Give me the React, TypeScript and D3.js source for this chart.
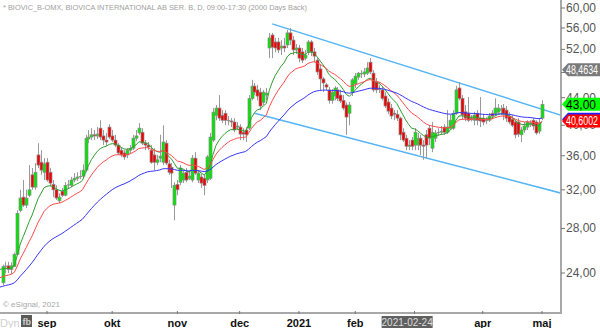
import React from "react";
import * as d3 from "d3";

// Daily OHLC bars (BIOVIC B), Aug 2020 -> May 2021
const opens = [23.2,24.55,24.6,24.3,24.55,25.6,29.8,31.2,30.35,31.4,33.7,32.3,36.1,35.2,34.0,35.2,34.0,32.6,32.0,30.8,31.85,31.4,32.5,32.5,33.1,33.3,33.45,33.55,34.25,38.15,38.4,38.7,38.55,39.6,38.55,38.0,39.75,38.55,38.0,37.35,36.7,36.35,36.1,36.7,36.95,38.25,38.95,39.05,37.6,37.35,36.7,36.1,35.2,35.7,35.2,37.6,35.0,34.6,30.35,32.6,32.85,33.1,34.0,33.3,33.1,35.7,33.1,33.45,33.3,33.1,33.3,38.0,41.4,42.45,41.4,41.7,40.7,40.6,40.45,39.75,39.75,39.05,39.35,39.6,43.9,45.8,45.2,44.85,43.3,44.4,52.25,54.65,53.35,53.35,52.25,52.6,52.8,55.05,53.7,51.9,52.25,51.55,50.45,51.55,53.35,51.55,50.1,48.6,46.95,46.0,45.2,43.6,44.25,45.2,44.4,43.6,42.9,41.7,44.85,46.15,47.25,47.75,47.75,47.9,49.75,47.9,46.45,45.2,45.2,44.25,43.35,42.45,41.7,41.55,41.0,39.05,38.25,37.2,38.0,37.35,37.35,38.25,37.35,38.7,39.6,36.95,38.25,38.95,39.05,39.75,39.05,39.6,39.6,41.7,45.5,43.9,41.9,41.7,41.0,40.7,41.7,41.0,41.0,40.6,40.7,41.7,41.6,41.85,42.15,42.45,42.15,41.3,40.85,40.45,40.45,38.7,39.35,39.75,40.15,40.7,40.45,39.2,41.0];
const highs = [24.7,24.95,24.95,24.9,25.75,29.8,32.0,33.1,32.0,34.85,34.5,35.1,37.6,36.7,35.7,35.7,34.5,33.1,32.5,31.6,32.2,32.85,33.1,33.45,33.9,34.0,34.25,34.95,38.7,39.35,39.6,39.35,39.75,40.7,39.35,38.95,40.15,39.35,38.7,37.6,37.1,36.7,36.95,37.35,38.7,39.35,40.3,39.6,38.0,37.75,37.35,36.95,36.1,38.7,40.0,38.0,35.5,35.1,32.85,33.1,34.85,34.25,34.5,34.25,36.1,36.45,34.25,33.8,33.7,36.1,38.95,42.45,42.9,44.4,42.15,42.15,41.3,41.0,41.0,40.45,40.15,39.6,39.75,44.4,46.8,46.3,46.0,45.5,45.2,45.5,55.05,55.05,54.1,54.1,53.7,54.1,55.6,56.0,54.45,52.95,52.8,52.25,51.9,53.7,53.7,52.25,50.45,49.25,47.25,46.3,45.65,45.35,45.8,45.65,45.2,44.4,43.3,43.35,47.1,47.9,48.1,48.4,48.75,49.75,50.45,48.4,47.1,45.95,45.65,44.85,43.9,43.05,42.15,42.15,41.2,39.6,38.7,38.0,38.4,39.6,38.95,38.7,38.0,39.35,40.0,40.45,39.35,39.6,39.9,40.15,42.15,41.45,42.15,45.85,46.45,44.4,42.9,44.1,41.45,41.9,42.15,44.1,41.6,41.15,41.75,42.15,43.9,43.05,42.9,43.05,42.75,41.85,41.45,40.7,41.0,39.75,40.45,40.7,40.7,41.0,40.7,41.0,43.6];
const lows = [23.0,24.0,24.0,23.9,24.5,25.5,29.6,30.15,30.05,31.2,32.0,32.0,34.5,33.7,33.1,32.9,32.4,31.2,30.9,30.55,31.2,31.3,32.2,32.3,32.85,33.0,33.2,33.3,34.0,37.6,38.0,38.0,38.15,38.0,37.35,37.2,38.15,37.75,37.1,36.1,35.85,35.5,35.7,36.35,36.7,37.85,38.7,37.35,36.7,36.7,35.0,34.25,34.85,35.2,34.85,34.85,33.7,32.2,28.8,31.4,32.5,32.75,32.85,33.1,32.85,33.7,32.75,32.2,31.4,32.75,33.1,37.75,40.7,40.6,40.3,40.0,40.0,39.75,39.05,39.35,38.0,38.0,37.75,39.35,43.6,44.4,43.6,42.15,42.9,43.6,50.45,50.45,51.5,51.35,51.0,51.5,52.25,52.8,51.0,51.2,49.75,49.6,50.1,51.0,50.8,49.75,47.6,45.2,44.85,45.2,43.1,43.1,43.6,43.5,43.2,42.15,38.7,40.0,44.25,45.5,46.8,47.1,47.25,47.6,47.75,44.85,44.7,44.7,43.6,42.45,41.6,40.85,40.7,40.6,38.0,37.75,36.7,36.7,36.7,36.7,36.7,36.1,35.5,35.7,37.35,36.45,37.75,38.55,38.7,38.7,38.8,39.35,39.35,41.45,43.6,40.85,40.55,40.45,40.55,40.0,40.0,39.75,40.0,40.15,40.45,40.85,41.3,41.6,41.45,40.7,40.45,40.15,39.75,38.25,38.4,37.75,38.95,39.35,39.75,39.35,38.7,38.8,40.7];
const closes = [24.55,24.6,24.3,24.6,25.6,29.5,31.1,30.35,31.1,32.0,32.3,34.0,34.85,34.25,35.0,33.1,32.75,32.0,31.1,31.2,31.4,32.5,32.6,33.1,33.3,33.45,33.55,34.25,38.25,38.4,38.7,38.55,38.8,38.4,38.0,37.75,38.4,38.0,37.35,36.35,36.1,35.85,36.7,36.95,38.25,38.55,39.6,37.6,37.35,37.1,35.2,35.2,35.5,35.95,37.75,35.1,34.0,33.9,32.5,32.0,34.5,33.9,33.1,33.55,35.7,33.9,33.9,32.75,32.5,35.85,38.4,41.85,42.45,41.0,40.7,40.7,40.6,40.45,39.35,39.9,38.8,38.8,38.7,43.9,45.8,44.85,44.25,42.75,44.85,44.7,54.1,52.4,52.25,51.9,52.6,52.25,55.05,53.7,51.9,52.25,50.45,50.1,51.0,53.35,51.55,50.8,48.1,46.95,46.3,45.65,43.6,44.85,45.5,43.9,43.5,42.45,41.15,42.9,46.8,47.4,47.9,47.9,48.1,48.75,48.1,45.2,45.2,45.35,43.9,42.75,42.0,41.3,41.55,41.0,38.7,38.0,37.2,37.35,37.2,39.05,38.25,37.35,37.2,37.35,38.25,39.05,38.95,39.05,39.2,39.05,39.75,40.7,41.7,45.2,43.9,41.45,41.0,40.7,40.85,41.45,40.7,40.6,40.45,40.7,41.3,41.3,42.45,42.45,42.3,41.6,41.0,40.45,40.0,38.7,38.8,39.35,39.9,40.45,40.3,39.9,38.95,40.3,43.0];

const monthTickBars = [15, 37, 59, 80, 100, 119, 139, 162, 182];
const monthLabels = ["sep", "okt", "nov", "dec", "2021", "feb", "mar", "apr", "maj"];
const priceTicks = [24, 28, 32, 36, 40, 44, 48, 52, 56, 60];
const maPeriods = [10, 20, 50];
const maSeeds = [24.3, 23.6, 22.85];
const channelUpperBars = [91, 190];
const channelUpperPrices = [56.8, 41.2];
const channelLowerBars = [85, 190];
const channelLowerPrices = [41.7, 31.5];
const cursorBar = 136;
const cursorLabel = "2021-02-24";
const tagValues = [48.4634, 43.0, 40.85, 40.6002];
const tagLabels = ["48,4634", "43,00", "", "40,6002"];
const titleText = "* BIOVIC_B-OMX, BIOVICA INTERNATIONAL AB SER. B, D, 09:00-17:30 (2000 Days Back)";
const copyrightText = "\u00a9 eSignal, 2021";

function ema(values: number[], period: number, seed: number): number[] {
  const a = 2 / (period + 1);
  let prev = seed;
  return [seed, ...values.map((v) => (prev = prev + a * (v - prev)))];
}

export default function App() {
  const PR = 561; // plot right
  const PB = 313; // plot bottom
  const n = closes.length;
  const x = d3.scaleLinear().domain([0, n - 1]).range([2.5, 542]);
  const y = d3.scaleLog().domain([24, 60]).range([273, 8]);
  const fmt = (v: number) => v.toFixed(2).replace(".", ",");

  const maColors = ["#2f9e2f", "#ff4a4a", "#3535ff"];
  const maLines = maPeriods.map((p, k) => {
    const vals = ema(closes, p, maSeeds[k]);
    const line = d3
      .line<number>()
      .x((_, i) => x(i - 1))
      .y((d) => y(d));
    return line(vals) || "";
  });

  const chan = (bars: number[], prices: number[]) =>
    d3.line<number>().x((b) => x(b)).y((_, i) => y(prices[i]))(bars) || "";

  const tagFills = ["#7a7a7a", "#00ff00", "#2020ff", "#ff0000"];
  const tagText = ["#ffffff", "#000000", "#ffffff", "#ffffff"];

  // tick labels that sit fully under a price tag are hidden, as in the source
  const tagYs = tagValues.map((v) => y(v));
  const hiddenTick = (t: number) => tagYs.some((ty) => Math.abs(ty - y(t)) < 3.5);
  const cursorX = x(cursorBar);

  return (
    <svg
      width={600}
      height={328}
      style={{ position: "absolute", left: 0, top: 0, background: "#fff" }}
      fontFamily="Arial, 'Liberation Sans', sans-serif"
    >
      <defs>
        <clipPath id="plotClip">
          <rect x={0} y={0} width={PR} height={PB} />
        </clipPath>
      </defs>
      <rect x={0} y={0} width={600} height={328} fill="#fff" />

      <text x={3} y={10} fontSize={7.4} fill="#a0a0a0">
        {titleText}
      </text>

      <g clipPath="url(#plotClip)">
        {/* channel lines */}
        <path d={chan(channelUpperBars, channelUpperPrices)} stroke="#55b4f4" strokeWidth={1.5} fill="none" />
        <path d={chan(channelLowerBars, channelLowerPrices)} stroke="#55b4f4" strokeWidth={1.5} fill="none" />

        {/* candles */}
        {closes.map((c, i) => {
          const o = opens[i];
          const cx = Math.round(x(i)) + 0.5;
          const top = y(Math.max(o, c));
          const bot = y(Math.min(o, c));
          const up = c > o;
          const flat = Math.abs(bot - top) < 1;
          return (
            <g key={i}>
              <line x1={cx} x2={cx} y1={y(highs[i])} y2={y(lows[i])} stroke="#9a9a9a" strokeWidth={1} />
              {flat ? (
                <line x1={cx - 1.5} x2={cx + 1.5} y1={(top + bot) / 2} y2={(top + bot) / 2} stroke="#8a8a8a" strokeWidth={1} />
              ) : (
                <rect
                  x={cx - 1.5}
                  y={top}
                  width={3}
                  height={bot - top}
                  fill={up ? "#00e600" : "#ee0000"}
                  stroke="#8c8c8c"
                  strokeWidth={0.7}
                />
              )}
            </g>
          );
        })}

        {/* moving averages */}
        {maLines.map((d, k) => (
          <path key={k} d={d} stroke={maColors[k]} strokeWidth={1} fill="none" />
        ))}
      </g>

      <text x={3} y={307} fontSize={8} fill="#a8a8a8">
        {copyrightText}
      </text>

      {/* frame */}
      <line x1={0} x2={PR + 1} y1={PB} y2={PB} stroke="#a8a8a8" strokeWidth={2} />
      <line x1={PR} x2={PR} y1={0} y2={PB + 1} stroke="#a8a8a8" strokeWidth={2} />

      {/* right axis */}
      {priceTicks.map((t) => (
        <g key={t}>
          <line x1={PR} x2={PR + 4} y1={y(t)} y2={y(t)} stroke="#777" strokeWidth={1} />
          {!hiddenTick(t) && (
            <text x={PR + 5} y={y(t) + 4} fontSize={12} fill="#555">
              {fmt(t)}
            </text>
          )}
        </g>
      ))}

      {/* price tags */}
      {tagValues.map((v, k) => {
        const cy = y(v);
        const h = 6.5;
        const d = `M${PR + 1},${cy} L${PR + 7},${cy - h} L600,${cy - h} L600,${cy + h} L${PR + 7},${cy + h} Z`;
        return (
          <g key={k}>
            <path d={d} fill={tagFills[k]} />
            {tagLabels[k] && (
              <text
                x={PR + 5}
                y={cy + 4.5}
                fontSize={12}
                fill={tagText[k]}
                textLength={tagLabels[k].length > 5 ? 32 : undefined}
                lengthAdjust="spacingAndGlyphs"
              >
                {tagLabels[k]}
              </text>
            )}
          </g>
        );
      })}

      {/* bottom axis */}
      {monthTickBars.map((b, k) => (
        <g key={k}>
          <line x1={x(b)} x2={x(b)} y1={PB - 2} y2={PB + 1} stroke="#777" strokeWidth={1} />
          {Math.abs(x(b) - cursorX) > 30 && (
            <text x={x(b)} y={327} fontSize={11} fontWeight="bold" textAnchor="middle" fill="#111">
              {monthLabels[k]}
            </text>
          )}
        </g>
      ))}

      {/* crosshair date label */}
      <rect x={cursorX - 24} y={316} width={51} height={12} fill="#606060" />
      <text x={cursorX + 1.5} y={326} fontSize={10} textAnchor="middle" fill="#dcdcdc">
        {cursorLabel}
      </text>

      {/* Dyn + icon */}
      <text x={0} y={327} fontSize={11} fill="#cfcfcf">
        Dyn
      </text>
      <rect x={21} y={315} width={11} height={12} fill="#5a5a5a" />
      <text x={22.5} y={325} fontSize={9} fontWeight="bold" fill="#cfcfcf">
        fb
      </text>
    </svg>
  );
}
